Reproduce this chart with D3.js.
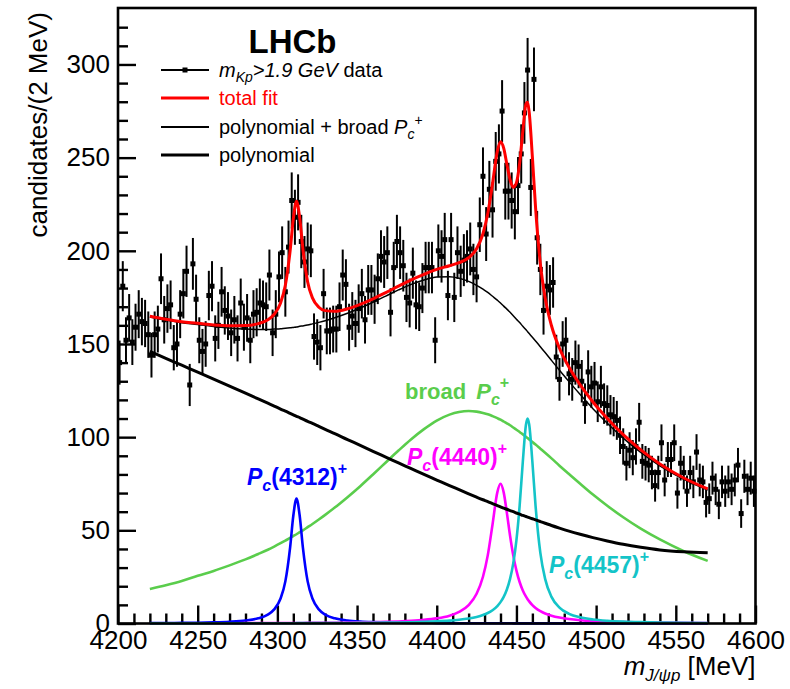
<!DOCTYPE html>
<html>
<head>
<meta charset="utf-8">
<script src="https://cdn.jsdelivr.net/npm/d3@7"></script>
<style>
  html, body { margin: 0; padding: 0; background: #fff; }
  svg { display: block; font-family: "Liberation Sans", Arial, Helvetica, sans-serif; }
</style>
</head>
<body>
<svg id="chart" width="790" height="689"></svg>
<script>
// J/psi p invariant-mass spectrum, 2 MeV bins from 4200 to 4600 MeV
const binStart = 4200;
const binWidth = 2;
const counts = [
  140,181,152,164,151,159,166,162,161,155,
  144,155,158,185,163,169,171,148,150,166,
  177,189,128,193,174,152,146,150,176,181,
  153,160,178,168,165,156,163,153,172,159,
  164,152,166,167,172,171,170,187,156,166,
  186,199,178,202,227,218,226,205,194,201,
  200,154,151,148,177,157,157,158,158,170,
  187,182,159,165,161,169,177,163,179,179,
  174,185,197,194,199,167,191,205,199,192,
  175,172,188,171,170,180,191,191,191,152,
  200,197,206,176,206,175,199,189,195,197,
  201,190,186,214,240,209,233,222,248,252,
  275,232,232,227,221,235,252,274,297,234,
  292,207,190,168,181,179,183,143,131,150,
  152,134,131,140,138,130,118,135,127,129,
  119,127,118,117,112,111,109,101,95,86,
  93,89,95,108,87,86,85,81,74,81,
  97,77,88,88,97,70,86,81,71,81,
  76,92,77,76,65,67,78,72,64,76,
  71,76,72,77,85,59,79,72,78,71
];

// Fit components sampled on a common mass grid (MeV)
const curveMass = [
  4220,4230,4240,4250,4260,4270,4280,4288,4294,4298,
  4302,4305,4308,4310,4312,4314,4316,4319,4322,4326,
  4330,4336,4344,4352,4360,4368,4376,4384,4392,4400,
  4408,4414,4420,4425,4429,4432,4435,4438,4440,4442,
  4444,4446,4448,4450,4452,4454,4456,4457,4458,4460,
  4462,4465,4468,4472,4477,4483,4490,4498,4507,4517,
  4528,4540,4555,4570
];
const polynomial = [
  146.0,142.3,138.6,134.9,131.2,127.4,123.6,120.5,118.2,116.7,
  115.1,114.0,112.8,112.0,111.2,110.5,109.7,108.5,107.4,105.8,
  104.2,101.9,98.7,95.6,92.4,89.3,86.2,83.1,80.0,77.0,
  74.0,71.8,69.6,67.8,66.4,65.4,64.3,63.3,62.6,61.9,
  61.3,60.6,60.0,59.3,58.7,58.0,57.4,57.1,56.8,56.2,
  55.6,54.7,53.8,52.6,51.2,49.6,47.9,46.1,44.3,42.5,
  40.9,39.5,38.5,38.0
];
const broadPc = [
  18.5,20.5,22.8,25.6,28.2,31.2,34.4,37.3,39.6,41.3,
  43.1,44.5,45.9,46.9,47.9,49.0,50.0,51.7,53.4,55.8,
  58.3,62.2,67.8,73.7,80.0,86.4,92.8,98.9,104.3,108.9,
  112.1,113.5,114.0,113.7,113.0,112.3,111.3,110.2,109.4,108.4,
  107.4,106.4,105.2,104.0,102.8,101.5,100.2,99.5,98.8,97.4,
  96.0,93.8,91.6,88.6,84.7,80.2,75.0,69.2,63.2,57.0,
  50.9,45.1,38.8,33.6
];
const pc4312 = [
  0.20,0.25,0.32,0.43,0.61,0.94,1.60,2.79,4.80,7.58,
  13.4,22.6,40.9,57.8,67.0,57.8,40.9,22.6,13.4,7.58,
  4.80,2.79,1.60,1.03,0.72,0.53,0.41,0.32,0.26,0.22,
  0.18,0.16,0.14,0.13,0.12,0.12,0.11,0.11,0.10,0.10,
  0.10,0.10,0.09,0.09,0.09,0.09,0.08,0.08,0.08,0.08,
  0.08,0.08,0.07,0.07,0.07,0.06,0.06,0.05,0.05,0.04,
  0.04,0.03,0.03,0.03
];
const pc4440 = [
  0.094,0.103,0.114,0.126,0.141,0.158,0.178,0.197,0.213,0.226,
  0.239,0.250,0.261,0.269,0.277,0.286,0.296,0.310,0.327,0.350,
  0.375,0.419,0.492,0.585,0.706,0.870,1.10,1.43,1.93,2.75,
  4.21,6.19,9.90,15.96,25.09,36.55,53.15,70.38,75.0,70.38,
  59.38,47.11,36.55,28.37,22.27,17.76,14.40,13.04,11.86,9.90,
  8.37,6.65,5.40,4.21,3.19,2.39,1.78,1.33,1.00,0.76,
  0.585,0.453,0.343,0.269
];
const pc4457 = [
  0.066,0.072,0.079,0.086,0.095,0.106,0.118,0.129,0.139,0.146,
  0.154,0.160,0.166,0.171,0.176,0.181,0.186,0.194,0.203,0.215,
  0.229,0.252,0.289,0.335,0.392,0.465,0.561,0.690,0.869,1.13,
  1.52,1.97,2.64,3.50,4.52,5.62,7.15,9.38,11.47,14.31,
  18.26,23.93,32.28,44.77,63.1,86.8,106.8,110.0,106.8,86.8,
  63.1,37.90,23.93,14.31,8.53,5.21,3.30,2.16,1.46,1.02,
  0.73,0.535,0.384,0.289
];

const xTicks = [4200,4250,4300,4350,4400,4450,4500,4550,4600];
const xMinorTicks = d3.range(4200, 4601, 10);
const yTicks = [0,50,100,150,200,250,300];
const yMinorTicks = d3.range(0, 321, 10);

const colors = {
  data: "#000000",
  total: "#ff0000",
  broad: "#5acd4c",
  pc4312: "#0000ff",
  pc4440: "#ff00ff",
  pc4457: "#14c4c8"
};

const svg = d3.select("#chart");
const frame = { left: 118, right: 755.5, top: 8, bottom: 623.5 };

const x = d3.scaleLinear().domain([4200, 4600]).range([frame.left, frame.right]);
const y = d3.scaleLinear().domain([0, 330.3]).range([frame.bottom, frame.top]);

// Tables built from the component arrays
const dataTable = counts.map((n, i) => ({ m: binStart + binWidth * (i + 0.5), n, err: Math.sqrt(n) }));
const comp = curveMass.map((m, i) => ({
  m,
  poly: polynomial[i],
  broad: broadPc[i],
  p1: pc4312[i],
  p2: pc4440[i],
  p3: pc4457[i]
}));

const line = (acc) => d3.line().x(d => x(d.m)).y(d => y(acc(d))).curve(d3.curveMonotoneX);

// ---- axes (ticks point inward) ----
const gAxes = svg.append("g");

const yMajor = d3.axisLeft(y).tickValues(yTicks).tickSize(-18).tickPadding(8).tickFormat(d3.format("d"));
const yMinor = d3.axisLeft(y).tickValues(yMinorTicks.filter(v => v % 50 !== 0)).tickSize(-10).tickFormat("");
const xMajor = d3.axisBottom(x).tickValues(xTicks).tickSize(-18).tickPadding(7).tickFormat(d3.format("d"));
const xMinor = d3.axisBottom(x).tickValues(xMinorTicks.filter(v => v % 50 !== 0)).tickSize(-10).tickFormat("");

function styleAxis(g) {
  g.select(".domain").remove();
  g.selectAll(".tick line").attr("stroke", "#000").attr("stroke-width", 2.4);
  g.selectAll(".tick text").attr("fill", "#000").style("font-size", "26px")
    .style("font-family", "\"Liberation Sans\", Arial, Helvetica, sans-serif");
}

gAxes.append("g").attr("transform", `translate(${frame.left},0)`).call(yMajor).call(styleAxis);
gAxes.append("g").attr("transform", `translate(${frame.left},0)`).call(yMinor).call(styleAxis);
gAxes.append("g").attr("transform", `translate(0,${frame.bottom})`).call(xMajor).call(styleAxis);
gAxes.append("g").attr("transform", `translate(0,${frame.bottom})`).call(xMinor).call(styleAxis);

// ---- data points with statistical error bars ----
const gData = svg.append("g");
gData.selectAll("line.err").data(dataTable).join("line")
  .attr("class", "err")
  .attr("x1", d => x(d.m)).attr("x2", d => x(d.m))
  .attr("y1", d => y(d.n - d.err)).attr("y2", d => y(d.n + d.err))
  .attr("stroke", colors.data).attr("stroke-width", 2);
gData.selectAll("rect.pt").data(dataTable).join("rect")
  .attr("class", "pt")
  .attr("x", d => x(d.m) - 2.5).attr("y", d => y(d.n) - 2.5)
  .attr("width", 5).attr("height", 5)
  .attr("fill", colors.data);

// ---- fit components ----
const gFit = svg.append("g").attr("fill", "none").attr("stroke-linejoin", "round");
gFit.append("path").datum(comp).attr("d", line(d => d.broad))
  .attr("stroke", colors.broad).attr("stroke-width", 2.6);
gFit.append("path").datum(comp).attr("d", line(d => d.p1))
  .attr("stroke", colors.pc4312).attr("stroke-width", 2.6);
gFit.append("path").datum(comp).attr("d", line(d => d.p2))
  .attr("stroke", colors.pc4440).attr("stroke-width", 2.6);
gFit.append("path").datum(comp).attr("d", line(d => d.p3))
  .attr("stroke", colors.pc4457).attr("stroke-width", 2.6);
gFit.append("path").datum(comp).attr("d", line(d => d.poly))
  .attr("stroke", "#000").attr("stroke-width", 3);
gFit.append("path").datum(comp).attr("d", line(d => d.poly + d.broad))
  .attr("stroke", "#000").attr("stroke-width", 1.5);
gFit.append("path").datum(comp).attr("d", line(d => d.poly + d.broad + d.p1 + d.p2 + d.p3))
  .attr("stroke", colors.total).attr("stroke-width", 3);

// ---- frame ----
svg.append("rect")
  .attr("x", frame.left).attr("y", frame.top)
  .attr("width", frame.right - frame.left).attr("height", frame.bottom - frame.top)
  .attr("fill", "none").attr("stroke", "#000").attr("stroke-width", 2.6);

// ---- axis titles ----
svg.append("text")
  .attr("transform", "translate(47,12) rotate(-90)")
  .attr("text-anchor", "end")
  .style("font-size", "26px")
  .text("candidates/(2 MeV)");

const xTitle = svg.append("text")
  .attr("x", frame.right).attr("y", 675)
  .attr("text-anchor", "end")
  .style("font-size", "26px");
xTitle.append("tspan").style("font-style", "italic").text("m");
xTitle.append("tspan").style("font-style", "italic").style("font-size", "17px").attr("dy", 6).text("J/\u03C8p");
xTitle.append("tspan").attr("dy", -6).text(" [MeV]");

// ---- experiment label ----
svg.append("text")
  .attr("x", 292.5).attr("y", 53)
  .attr("text-anchor", "middle")
  .style("font-size", "33px").style("font-weight", "bold")
  .text("LHCb");

// ---- legend ----
const legendRows = [70, 98, 127, 155];
const gLeg = svg.append("g");
const lx1 = 161, lx2 = 209, tx = 219;

gLeg.append("line").attr("x1", lx1).attr("x2", lx2).attr("y1", legendRows[0]).attr("y2", legendRows[0])
  .attr("stroke", "#000").attr("stroke-width", 2);
gLeg.append("rect").attr("x", (lx1 + lx2) / 2 - 2.5).attr("y", legendRows[0] - 2.5)
  .attr("width", 5).attr("height", 5).attr("fill", "#000");
gLeg.append("line").attr("x1", lx1).attr("x2", lx2).attr("y1", legendRows[1]).attr("y2", legendRows[1])
  .attr("stroke", colors.total).attr("stroke-width", 3);
gLeg.append("line").attr("x1", lx1).attr("x2", lx2).attr("y1", legendRows[2]).attr("y2", legendRows[2])
  .attr("stroke", "#000").attr("stroke-width", 1.8);
gLeg.append("line").attr("x1", lx1).attr("x2", lx2).attr("y1", legendRows[3]).attr("y2", legendRows[3])
  .attr("stroke", "#000").attr("stroke-width", 3);

const t0 = gLeg.append("text").attr("x", tx).attr("y", legendRows[0] + 7).style("font-size", "20px");
t0.append("tspan").style("font-style", "italic").text("m");
t0.append("tspan").style("font-style", "italic").style("font-size", "14px").attr("dy", 5).text("Kp");
t0.append("tspan").style("font-style", "italic").attr("dy", -5).text(">1.9 GeV");
t0.append("tspan").text(" data");

gLeg.append("text").attr("x", tx).attr("y", legendRows[1] + 7).style("font-size", "20px")
  .attr("fill", colors.total).text("total fit");

const t2 = gLeg.append("text").attr("x", tx).attr("y", legendRows[2] + 7).style("font-size", "20px");
t2.append("tspan").text("polynomial + broad ");
t2.append("tspan").style("font-style", "italic").text("P");
t2.append("tspan").style("font-style", "italic").style("font-size", "14px").attr("dy", 5).text("c");
t2.append("tspan").style("font-size", "14px").attr("dy", -14).text("+");

gLeg.append("text").attr("x", tx).attr("y", legendRows[3] + 7).style("font-size", "20px").text("polynomial");

// ---- state labels ----
function pcLabel(xPos, yPos, mass, color) {
  const t = svg.append("text").attr("x", xPos).attr("y", yPos)
    .attr("fill", color).style("font-weight", "bold").style("font-size", "23px");
  t.append("tspan").style("font-style", "italic").text("P");
  t.append("tspan").style("font-style", "italic").style("font-size", "16px").attr("dy", 6).text("c");
  if (mass) t.append("tspan").attr("dy", -6).text(`(${mass})`);
  t.append("tspan").style("font-size", "16px").attr("dy", mass ? -11 : -17).text("+");
  return t;
}

const tb = svg.append("text").attr("x", 405).attr("y", 399)
  .attr("fill", colors.broad).style("font-weight", "bold").style("font-size", "22px");
tb.append("tspan").text("broad ");
tb.append("tspan").style("font-style", "italic").attr("dx", 4).text("P");
tb.append("tspan").style("font-style", "italic").style("font-size", "16px").attr("dy", 6).text("c");
tb.append("tspan").style("font-size", "16px").attr("dy", -17).text("+");

pcLabel(247, 485, 4312, colors.pc4312);
pcLabel(407, 465, 4440, colors.pc4440);
pcLabel(549, 573, 4457, colors.pc4457);
</script>
</body>
</html>
